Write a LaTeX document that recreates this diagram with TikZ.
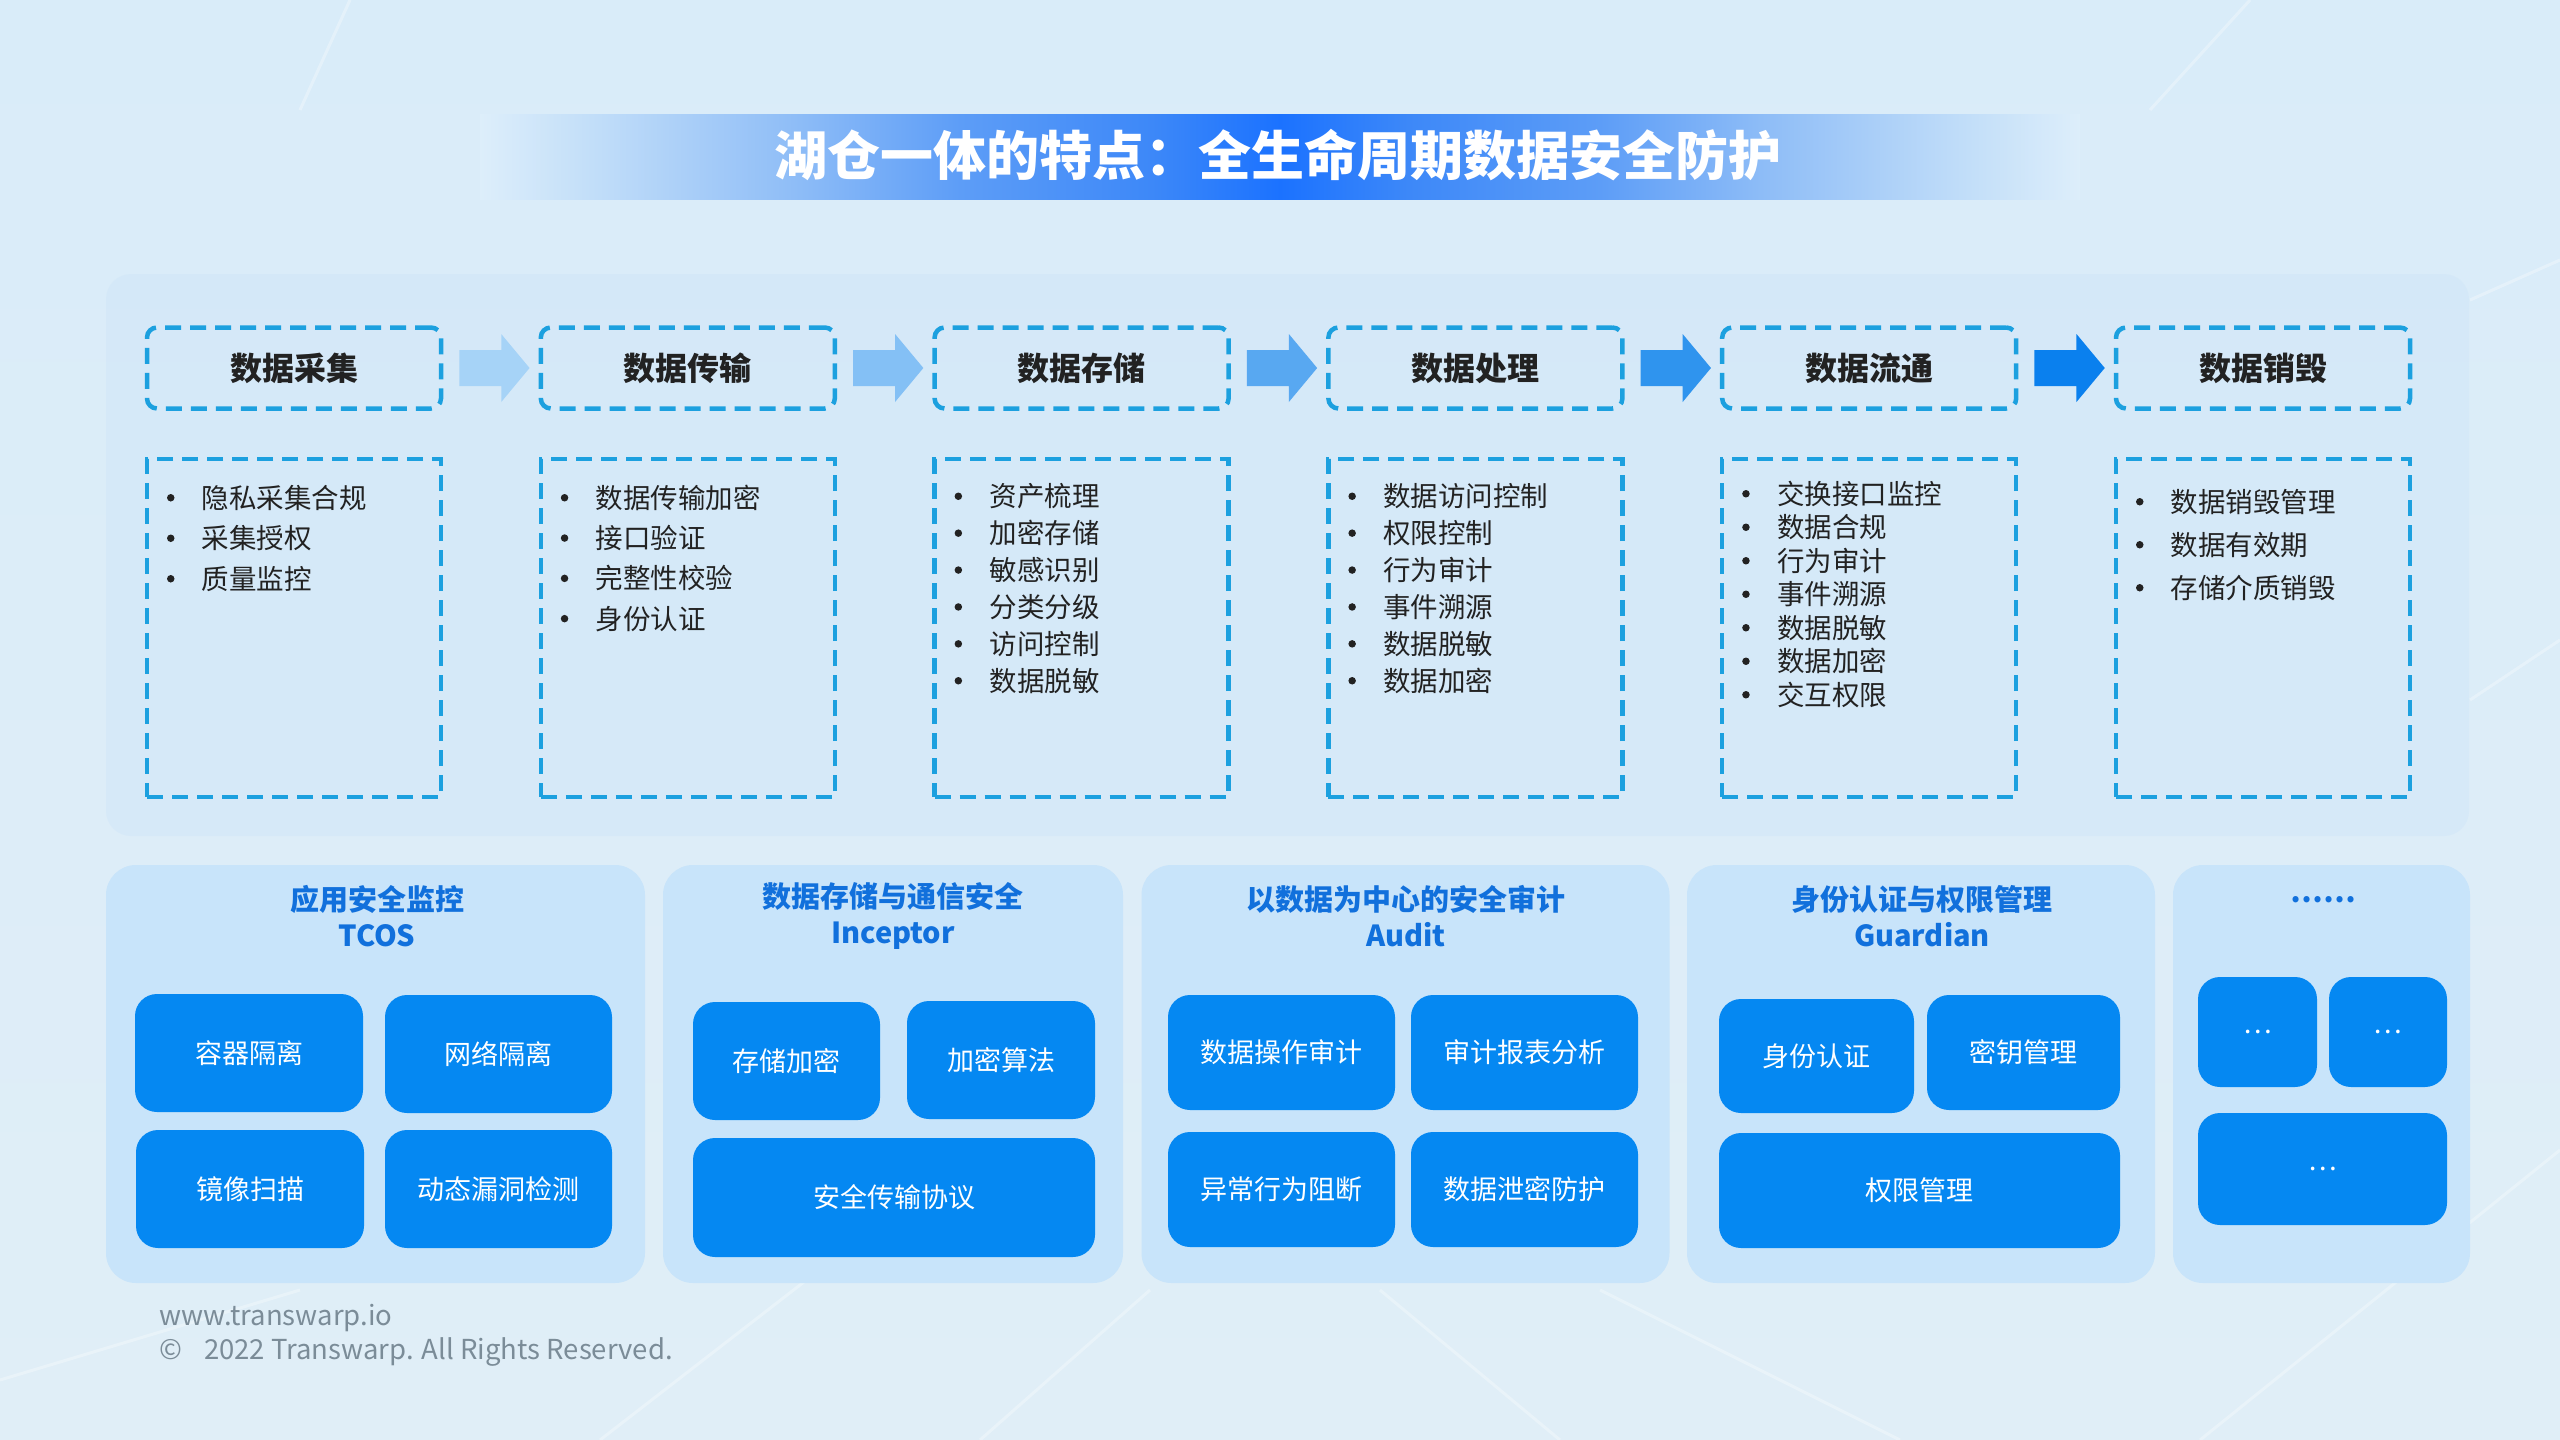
\documentclass[tikz,border=0pt]{standalone}
\usepackage{fontspec}
\setmainfont{Noto Sans CJK SC}
\usetikzlibrary{calc}
\definecolor{bgtop}{HTML}{D9ECF9}
\definecolor{bgmid}{HTML}{EDF6FC}
\definecolor{bgbot}{HTML}{E0EEF7}
\definecolor{panelbg}{HTML}{D0E6F8}
\definecolor{dashc}{HTML}{1CA0DF}
\definecolor{panelc}{HTML}{C8E4FA}
\definecolor{tilec}{HTML}{0588F2}
\definecolor{titleblue}{HTML}{1170DC}
\definecolor{textdark}{HTML}{222222}
\definecolor{footc}{HTML}{7B8C98}
\definecolor{arrA}{HTML}{A6D3F7}
\definecolor{arrB}{HTML}{84C0F5}
\definecolor{arrC}{HTML}{58A8F1}
\definecolor{arrD}{HTML}{2F94EE}
\definecolor{arrE}{HTML}{0A80EE}
\definecolor{bandA}{HTML}{DDEEFA}
\definecolor{bandB}{HTML}{C2DEF9}
\definecolor{bandC}{HTML}{8DBCF7}
\definecolor{bandD}{HTML}{5D9DF7}
\definecolor{bandE}{HTML}{3D88F8}
\definecolor{bandF}{HTML}{1B72FF}
\pgfdeclarehorizontalshading{titleband}{100bp}{color(0bp)=(bandA); color(25bp)=(bandA); color(28.5bp)=(bandB); color(35bp)=(bandC); color(40bp)=(bandD); color(46bp)=(bandE); color(50bp)=(bandF); color(54bp)=(bandE); color(60bp)=(bandD); color(65bp)=(bandC); color(71.5bp)=(bandB); color(75bp)=(bandA); color(100bp)=(bandA)}
\newcommand\stagearrow[3]{%
  \fill[#3] ($(#1.east)+(16,18)$) -- ($(#1.east)+(58,18)$) -- ($(#1.east)+(58,34)$)
    -- ($(#2.west)+(-9,0)$) -- ($(#1.east)+(58,-34)$) -- ($(#1.east)+(58,-18)$)
    -- ($(#1.east)+(16,-18)$) -- cycle;}
\newcommand\listitems[4]{%
  \foreach \t [count=\i from 0] in {#4}{
    \node[bul] (#1b\i) at ($(#1.north west)+(26,#2+#3*\i)$) {};
    \node[listtxt] (#1t\i) at ($(#1.north west)+(57,#2+#3*\i)$) {\t};
  }}
\begin{document}
\begin{tikzpicture}[x=1pt,y=-1pt,
  stagehead/.style={draw=dashc, dash pattern=on 16pt off 9pt, line width=4.5pt, rounded corners=10pt,
    minimum width=294pt, minimum height=81pt, inner sep=0pt, text=textdark,
    font=\fontsize{32}{38}\selectfont\bfseries},
  stagebody/.style={draw=dashc, dash pattern=on 16pt off 9pt, line width=4.5pt,
    minimum width=294pt, minimum height=338pt, inner sep=0pt},
  bul/.style={circle, fill=textdark, inner sep=0pt, minimum size=7.5pt},
  listtxt/.style={anchor=west, inner sep=0pt, text=textdark, font=\fontsize{27.5}{33}\selectfont},
  panel/.style={fill=panelc, rounded corners=30pt, inner sep=0pt, minimum height=418pt},
  tile/.style={fill=tilec, rounded corners=22pt, inner sep=0pt, text=white,
    font=\fontsize{27}{32}\selectfont},
  ptitle/.style={text=titleblue, align=center, inner sep=0pt, font=\fontsize{29}{36}\selectfont\bfseries},
  foot/.style={anchor=west, inner sep=0pt, text=footc, font=\fontsize{27.5}{32}\selectfont}
]
\useasboundingbox (0,0) rectangle (2560,1440);
\shade[top color=bgtop, middle color=bgmid, bottom color=bgbot] (0,0) rectangle (2560,1440);
% faint background streaks
\begin{scope}[white, opacity=0.3, line width=3pt]
  \draw (600,1440) -- (1000,1130);
  \draw (980,1440) -- (1150,1290);
  \draw (1560,1440) -- (1380,1290);
  \draw (1900,1440) -- (1600,1290);
  \draw (2200,1440) -- (2560,1150);
  \draw (0,1380) -- (300,1290);
  \draw (2470,700) -- (2560,640);
  \draw (2470,300) -- (2560,260);
  \draw (350,0) -- (300,110);
  \draw (2250,0) -- (2150,110);
\end{scope}
% title band
\shade[shading=titleband] (480,114) rectangle (2080,199);
\node[inner sep=0pt, text=white, font=\fontsize{53}{60}\selectfont\bfseries] (title) at (1278,155) {湖仓一体的特点：全生命周期数据安全防护};
% top panel
\node[fill=panelbg, fill opacity=0.5, rounded corners=25pt, minimum width=2363pt, minimum height=562pt, inner sep=0pt] (toppanel) at (1287.5,555) {};
% stage headers
\node[stagehead] (h1) at (294,368) {数据采集};
\node[stagehead] (h2) at (687.8,368) {数据传输};
\node[stagehead] (h3) at (1081.6,368) {数据存储};
\node[stagehead] (h4) at (1475.4,368) {数据处理};
\node[stagehead] (h5) at (1869.2,368) {数据流通};
\node[stagehead] (h6) at (2263,368) {数据销毁};
\stagearrow{h1}{h2}{arrA}
\stagearrow{h2}{h3}{arrB}
\stagearrow{h3}{h4}{arrC}
\stagearrow{h4}{h5}{arrD}
\stagearrow{h5}{h6}{arrE}
% stage bodies
\node[stagebody] (c1) at (294,628) {};
\node[stagebody] (c2) at (687.8,628) {};
\node[stagebody] (c3) at (1081.6,628) {};
\node[stagebody] (c4) at (1475.4,628) {};
\node[stagebody] (c5) at (1869.2,628) {};
\node[stagebody] (c6) at (2263,628) {};
\listitems{c1}{41}{40.5}{隐私采集合规,采集授权,质量监控}
\listitems{c2}{41}{40.3}{数据传输加密,接口验证,完整性校验,身份认证}
\listitems{c3}{39.5}{36.9}{资产梳理,加密存储,敏感识别,分类分级,访问控制,数据脱敏}
\listitems{c4}{39.5}{36.9}{数据访问控制,权限控制,行为审计,事件溯源,数据脱敏,数据加密}
\listitems{c5}{37}{33.5}{交换接口监控,数据合规,行为审计,事件溯源,数据脱敏,数据加密,交互权限}
\listitems{c6}{45}{43}{数据销毁管理,数据有效期,存储介质销毁}
% bottom panels
\node[panel, minimum width=539pt] (p1) at (375.5,1074) {};
\node[panel, minimum width=460pt] (p2) at (893,1074) {};
\node[panel, minimum width=528pt] (p3) at (1405.5,1074) {};
\node[panel, minimum width=468pt] (p4) at (1921,1074) {};
\node[panel, minimum width=297pt] (p5) at (2321.5,1074) {};
\node[ptitle] (p1t) at (377,916) {应用安全监控\\TCOS};
\node[ptitle] (p2t) at (893,916) {数据存储与通信安全\\Inceptor};
\node[ptitle] (p3t) at (1406,916) {以数据为中心的安全审计\\Audit};
\node[ptitle] (p4t) at (1922,916) {身份认证与权限管理\\Guardian};
\node[ptitle] (p5t) at (2323,900) {……};
% tiles panel 1
\node[tile, minimum width=228pt, minimum height=118pt] (t11) at (249,1053) {容器隔离};
\node[tile, minimum width=227pt, minimum height=118pt] (t12) at (498.5,1054) {网络隔离};
\node[tile, minimum width=228pt, minimum height=118pt] (t13) at (250,1189) {镜像扫描};
\node[tile, minimum width=227pt, minimum height=118pt] (t14) at (498.5,1189) {动态漏洞检测};
% tiles panel 2
\node[tile, minimum width=187pt, minimum height=118pt] (t21) at (786.5,1061) {存储加密};
\node[tile, minimum width=188pt, minimum height=118pt] (t22) at (1001,1060) {加密算法};
\node[tile, minimum width=402pt, minimum height=119pt] (t23) at (894,1197.5) {安全传输协议};
% tiles panel 3
\node[tile, minimum width=227pt, minimum height=115pt] (t31) at (1281.5,1052.5) {数据操作审计};
\node[tile, minimum width=227pt, minimum height=115pt] (t32) at (1524.5,1052.5) {审计报表分析};
\node[tile, minimum width=227pt, minimum height=115pt] (t33) at (1281.5,1189.5) {异常行为阻断};
\node[tile, minimum width=227pt, minimum height=115pt] (t34) at (1524.5,1189.5) {数据泄密防护};
% tiles panel 4
\node[tile, minimum width=195pt, minimum height=114pt] (t41) at (1816.5,1056) {身份认证};
\node[tile, minimum width=193pt, minimum height=115pt] (t42) at (2023.5,1052.5) {密钥管理};
\node[tile, minimum width=401pt, minimum height=115pt] (t43) at (1919.5,1190.5) {权限管理};
% tiles panel 5
\node[tile, minimum width=119pt, minimum height=110pt] (t51) at (2257.5,1032) {…};
\node[tile, minimum width=118pt, minimum height=110pt] (t52) at (2388,1032) {…};
\node[tile, minimum width=249pt, minimum height=112pt] (t53) at (2322.5,1169) {…};
% footer
\node[foot] (f1) at (159,1318) {www.transwarp.io};
\node[foot] (f2) at (159,1352) {©\hspace{22pt}2022 Transwarp. All Rights Reserved.};
\end{tikzpicture}
\end{document}
